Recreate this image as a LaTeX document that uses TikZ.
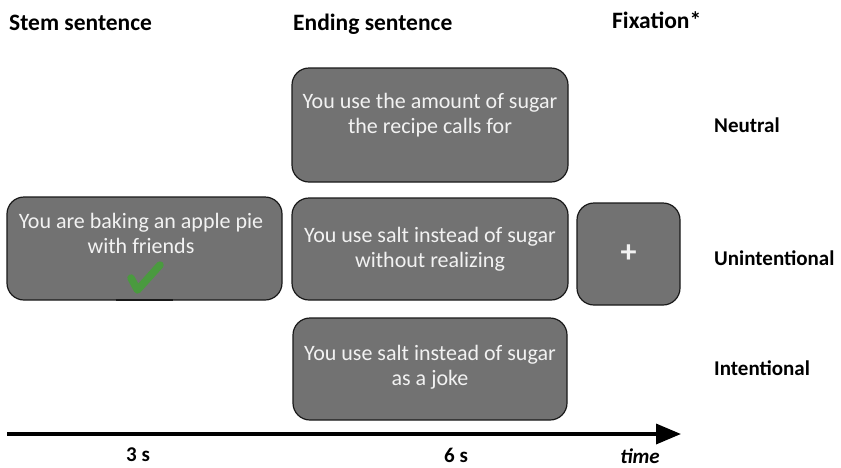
\documentclass[tikz,border=0pt]{standalone}
\usepackage{fontspec}
\setmainfont{Carlito}
\usetikzlibrary{arrows.meta}
\definecolor{boxgray}{HTML}{727272}
\definecolor{chkgreen}{HTML}{4A9A3F}
\definecolor{boxtext}{HTML}{F2F2F2}
\tikzset{
  slide/.style={draw=black!90, line width=1.2pt, fill=boxgray, rounded corners=17pt, inner sep=0pt},
  slidetext/.style={text=boxtext, font=\fontsize{22}{25}\selectfont, align=center, inner sep=0pt},
  header/.style={font=\fontsize{23.5}{26}\selectfont\bfseries, anchor=base west, inner sep=0pt},
  cond/.style={font=\fontsize{21}{24}\selectfont\bfseries, anchor=base west, inner sep=0pt},
  tlabel/.style={font=\fontsize{21}{24}\selectfont\bfseries, anchor=base, inner sep=0pt}
}
\begin{document}
\begin{tikzpicture}[x=1pt,y=-1pt]
\useasboundingbox (0,0) rectangle (841,467);
% headers
\node[header] (h1) at (9,30) {Stem sentence};
\node[header] (h2) at (293,30) {Ending sentence};
\node[header] (h3) at (612,28) {Fixation*};
% stem box
\node[slide, minimum width=275pt, minimum height=103pt] (stem) at (144.5,248.5) {};
\draw[line width=2pt, black!90] ([xshift=-29pt,yshift=0.6pt]stem.south) -- ([xshift=28pt,yshift=0.6pt]stem.south);
\node[slidetext] (stemtxt) at (141,233) {You are baking an apple pie\\with friends};
\draw[chkgreen, line width=7.5pt, line cap=round, line join=round] (131,278) -- (137.5,290) -- (160,265);
% ending boxes
\node[slide, minimum width=276pt, minimum height=114pt] (neutral) at (430,125) {};
\node[slidetext] (neutxt) at (430,115) {You use the amount of sugar\\the recipe calls for};
\node[slide, minimum width=276pt, minimum height=102pt] (unint) at (430,249) {};
\node[slidetext] (unitxt) at (430,249) {You use salt instead of sugar\\without realizing};
\node[slide, minimum width=274pt, minimum height=102pt] (inten) at (430,369) {};
\node[slidetext] (inttxt) at (430,367) {You use salt instead of sugar\\as a joke};
% fixation
\node[slide, minimum width=103pt, minimum height=102pt] (fix) at (628.5,254) {};
\node[text=boxtext, font=\fontsize{32}{32}\selectfont\bfseries, inner sep=0pt] (plus) at (fix.center) {+};
% condition labels
\node[cond] (c1) at (714,132) {Neutral};
\node[cond] (c2) at (714,265) {Unintentional};
\node[cond] (c3) at (714,375) {Intentional};
% time axis
\coordinate (t0) at (7,434);
\coordinate (t1) at (681,434);
\draw[line width=3.5pt, -{Triangle[length=25pt,width=20pt]}] (t0) -- (t1);
\node[tlabel] (l3) at (138,461) {3 s};
\node[tlabel] (l6) at (456,462) {6 s};
\node[tlabel, font=\fontsize{21}{24}\selectfont\bfseries\itshape] (lt) at (640,463) {time};
\end{tikzpicture}
\end{document}
